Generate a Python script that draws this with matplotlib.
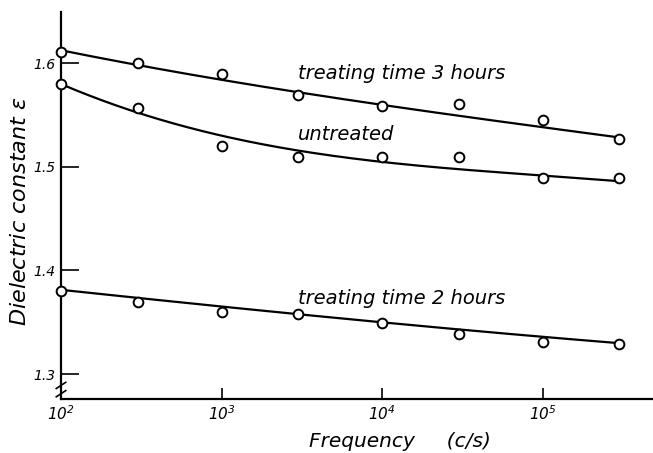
import numpy as np
from matplotlib import pyplot as plt

freq = [1e2, 3e2, 1e3, 3e3, 1e4, 3e4, 1e5, 3e5]

# measured points
y3h = [1.611, 1.600, 1.589, 1.569, 1.559, 1.560, 1.545, 1.527]
yun = [1.580, 1.557, 1.520, 1.509, 1.509, 1.509, 1.489, 1.489]
y2h = [1.380, 1.369, 1.360, 1.358, 1.349, 1.339, 1.331, 1.329]

# smooth curves drawn through the points
c3h = [1.611, 1.600, 1.586, 1.568, 1.559, 1.550, 1.540, 1.527]
cun = [1.580, 1.552, 1.529, 1.516, 1.505, 1.499, 1.489, 1.487]
c2h = [1.381, 1.374, 1.365, 1.357, 1.350, 1.344, 1.335, 1.330]

xticks = [1e2, 1e3, 1e4, 1e5]
xticklabels = ['$10^2$', '$10^3$', '$10^4$', '$10^5$']
yticks = [1.3, 1.4, 1.5, 1.6]
yticklabels = ['1.3', '1.4', '1.5', '1.6']

plt.rcParams['font.style'] = 'italic'
plt.rcParams['mathtext.default'] = 'it'

fig = plt.figure(figsize=(6.53, 4.53), dpi=100)
ax = fig.add_axes([0.0934, 0.1192, 0.9066, 0.8543])

lx = np.log10(freq)
xs = np.linspace(lx[0], lx[-1], 200)
for pts, crv in [(y3h, c3h), (yun, cun), (y2h, c2h)]:
    p = np.polyfit(lx, crv, 3)
    ax.plot(10 ** xs, np.polyval(p, xs), color='black', lw=1.6, zorder=2)
    ax.plot(freq, pts, 'o', ms=7, mfc='white', mec='black', mew=1.4,
            zorder=3, clip_on=False)

ax.set_xscale('log')
ax.set_xlim(1e2, 4.87e5)
ax.set_ylim(1.2759, 1.6492)
ax.set_xticks(xticks)
ax.set_xticklabels(xticklabels)
ax.minorticks_off()
ax.set_yticks(yticks)
ax.set_yticklabels(yticklabels)

ax.tick_params(axis='y', direction='in', length=13, width=1.2, labelsize=10, pad=4)
ax.tick_params(axis='x', direction='in', length=8, width=1.2, labelsize=11, pad=4)
for s in ['top', 'right']:
    ax.spines[s].set_visible(False)
for s in ['left', 'bottom']:
    ax.spines[s].set_linewidth(1.6)

# axis break marks
for dy in [-0.004, 0.004]:
    ax.plot([-0.008, 0.008], [1.285 + dy - 0.003, 1.285 + dy + 0.003],
            color='black', lw=1.2, transform=ax.get_yaxis_transform(), clip_on=False)

ax.text(3e3, 1.5846, 'treating time 3 hours', fontsize=14, ha='left', va='baseline')
ax.text(3e3, 1.5257, 'untreated', fontsize=14, ha='left', va='baseline')
ax.text(3e3, 1.368, 'treating time 2 hours', fontsize=14, ha='left', va='baseline')

ax.set_xlabel('Frequency     (c/s)', fontsize=14.5)
ax.xaxis.set_label_coords(0.573, -0.085)
ax.set_ylabel(r'Dielectric constant $\varepsilon$', fontsize=16)
ax.yaxis.set_label_coords(-0.052, 0.485)

fig.savefig('out.png', dpi=100)
